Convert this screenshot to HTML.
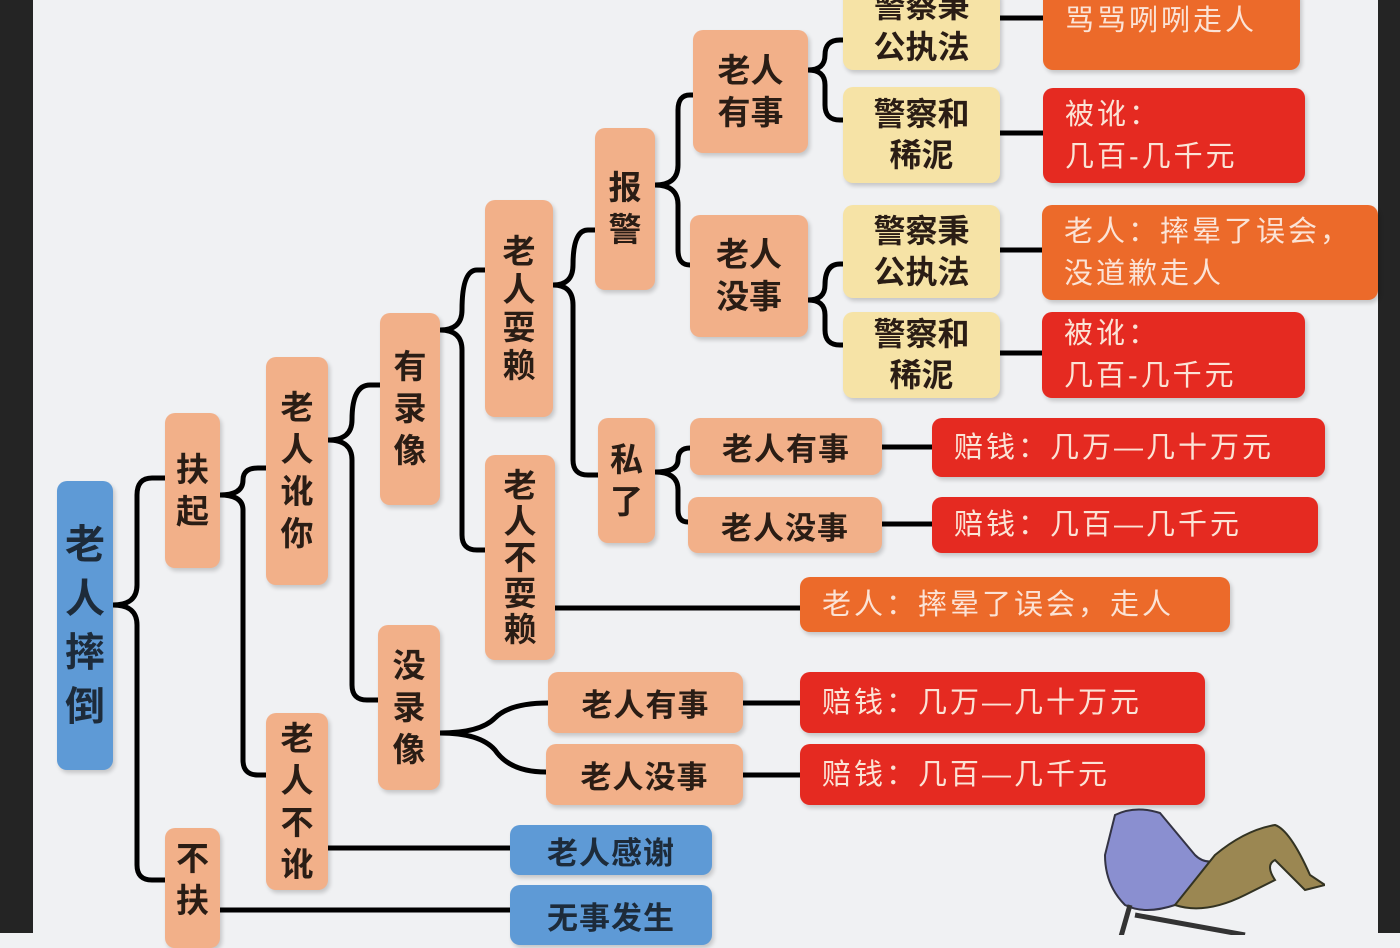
<!DOCTYPE html>
<html><head><meta charset="utf-8"><style>
html,body{margin:0;padding:0}
body{width:1400px;height:933px;position:relative;overflow:hidden;background:#f0f1f3;font-family:"Liberation Sans","Noto Sans CJK SC",sans-serif}
.n{position:absolute;display:flex;align-items:center;justify-content:center;text-align:center;border-radius:10px;box-shadow:2px 3px 4px rgba(0,0,0,.18);color:#2a1d15;font-weight:bold;box-sizing:border-box}
.s{background:#f2b089}
.y{background:#f6e3a6;font-size:32px;line-height:41px}
.o{background:#ec6a2a;color:#fbe3d6;font-weight:normal;justify-content:flex-start;padding-left:22px;text-align:left}
.r{background:#e52a21;color:#fbe3d6;font-weight:normal;justify-content:flex-start;padding-left:22px;text-align:left}
.b{background:#5e9ad6;color:#1d2b3a}
.v{font-size:33px;line-height:42px}
.h{font-size:31px;letter-spacing:1px}
.t{font-size:29px;line-height:42px;letter-spacing:3px}
</style></head><body>
<div style="position:absolute;left:0;top:0;width:33px;height:933px;background:#242424"></div>
<div style="position:absolute;left:1378px;top:0;width:22px;height:933px;background:#242424"></div>

<svg width="1400" height="933" style="position:absolute;left:0;top:0" fill="none" stroke="#000" stroke-width="5">
<path d="M113 605 Q137 605 137 585 L137 495 Q137 478 152 478 L165 478"/>
<path d="M113 605 Q137 605 137 625 L137 865 Q137 880 152 880 L165 880"/>
<path d="M220 495 Q243 495 243 480 Q243 468 258 468 L266 468"/>
<path d="M220 495 Q243 495 243 510 L243 760 Q243 775 258 775 L266 775"/>
<path d="M328 440 Q352 440 352 420 Q352 385 370 385 L380 385"/>
<path d="M328 440 Q352 440 352 460 L352 685 Q352 700 367 700 L378 700"/>
<path d="M440 330 Q462 330 462 310 Q462 270 477 270 L485 270"/>
<path d="M440 330 Q462 330 462 350 L462 535 Q462 550 477 550 L485 550"/>
<path d="M553 285 Q573 285 573 265 Q573 230 588 230 L595 230"/>
<path d="M553 285 Q573 285 573 305 L573 460 Q573 475 588 475 L598 475"/>
<path d="M655 185 Q678 185 678 165 L678 110 Q678 95 690 95 L693 95"/>
<path d="M655 185 Q678 185 678 205 L678 250 Q678 265 690 265 L690 265"/>
<path d="M808 70 Q825 70 825 55 Q825 40 840 40 L843 40"/>
<path d="M808 70 Q825 70 825 85 L825 105 Q825 120 840 120 L843 120"/>
<path d="M808 300 Q825 300 825 285 Q825 264 840 264 L843 264"/>
<path d="M808 300 Q825 300 825 315 L825 330 Q825 345 840 345 L843 345"/>
<path d="M655 472 Q678 472 678 460 Q678 448 690 448"/>
<path d="M655 472 Q678 472 678 490 L678 510 Q678 522 688 522"/>
<path d="M440 733 Q480 733 495 718 Q510 703 548 703"/>
<path d="M440 733 Q480 733 495 750 Q510 772 546 772"/>
<path d="M555 608 L800 608"/>
<path d="M328 848 L510 848"/>
<path d="M220 910 L510 910"/>
<path d="M1000 18 L1043 18 M1000 133 L1043 133 M1000 250 L1042 250 M1000 353 L1042 353"/>
<path d="M882 447 L932 447 M882 524 L932 524 M743 703 L800 703 M743 775 L800 775"/>
</svg>

<div class="n b" style="left:57px;top:481px;width:56px;height:289px;font-size:40px;line-height:54px">老<br>人<br>摔<br>倒</div>
<div class="n s v" style="left:165px;top:413px;width:55px;height:155px">扶<br>起</div>
<div class="n s v" style="left:165px;top:828px;width:55px;height:120px;align-items:flex-start;padding-top:10px">不<br>扶</div>
<div class="n s v" style="left:266px;top:357px;width:62px;height:228px">老<br>人<br>讹<br>你</div>
<div class="n s v" style="left:266px;top:713px;width:62px;height:177px">老<br>人<br>不<br>讹</div>
<div class="n s v" style="left:380px;top:313px;width:60px;height:192px">有<br>录<br>像</div>
<div class="n s v" style="left:378px;top:625px;width:62px;height:165px">没<br>录<br>像</div>
<div class="n s v" style="left:485px;top:200px;width:68px;height:217px;line-height:38px">老<br>人<br>耍<br>赖</div>
<div class="n s v" style="left:485px;top:455px;width:70px;height:205px;line-height:36px">老<br>人<br>不<br>耍<br>赖</div>
<div class="n s v" style="left:595px;top:128px;width:60px;height:162px">报<br>警</div>
<div class="n s v" style="left:598px;top:418px;width:57px;height:125px">私<br>了</div>
<div class="n s v" style="left:693px;top:30px;width:115px;height:123px">老人<br>有事</div>
<div class="n s v" style="left:690px;top:215px;width:118px;height:122px">老人<br>没事</div>

<div class="n y" style="left:843px;top:-12px;width:157px;height:82px;align-items:flex-end;padding-bottom:2px">警察秉<br>公执法</div>
<div class="n y" style="left:843px;top:87px;width:157px;height:96px">警察和<br>稀泥</div>
<div class="n y" style="left:843px;top:205px;width:157px;height:93px">警察秉<br>公执法</div>
<div class="n y" style="left:843px;top:312px;width:157px;height:86px">警察和<br>稀泥</div>

<div class="n o t" style="left:1043px;top:-12px;width:257px;height:82px;align-items:flex-start;padding-top:12px">骂骂咧咧走人</div>
<div class="n r t" style="left:1043px;top:88px;width:262px;height:95px">被讹：<br>几百-几千元</div>
<div class="n o t" style="left:1042px;top:205px;width:336px;height:95px">老人：摔晕了误会，<br>没道歉走人</div>
<div class="n r t" style="left:1042px;top:312px;width:263px;height:86px">被讹：<br>几百-几千元</div>

<div class="n s h" style="left:690px;top:418px;width:192px;height:57px">老人有事</div>
<div class="n s h" style="left:688px;top:497px;width:194px;height:56px">老人没事</div>
<div class="n r t" style="left:932px;top:418px;width:393px;height:59px">赔钱：几万—几十万元</div>
<div class="n r t" style="left:932px;top:497px;width:386px;height:56px">赔钱：几百—几千元</div>
<div class="n o t" style="left:800px;top:577px;width:430px;height:55px">老人：摔晕了误会，走人</div>

<div class="n s h" style="left:548px;top:672px;width:195px;height:61px">老人有事</div>
<div class="n s h" style="left:546px;top:744px;width:197px;height:61px">老人没事</div>
<div class="n r t" style="left:800px;top:672px;width:405px;height:61px">赔钱：几万—几十万元</div>
<div class="n r t" style="left:800px;top:744px;width:405px;height:61px">赔钱：几百—几千元</div>

<div class="n b h" style="left:510px;top:825px;width:202px;height:50px">老人感谢</div>
<div class="n b h" style="left:510px;top:885px;width:202px;height:60px;align-items:flex-start;padding-top:8px">无事发生</div>

<svg width="250" height="130" style="position:absolute;left:1075px;top:805px">
<path d="M40 10 Q60 0 85 8 L120 50 Q130 60 145 55 L100 100 Q70 110 50 100 Q30 80 30 50 Z" fill="#8a8fd0" stroke="#334" stroke-width="2"/>
<path d="M140 50 Q170 25 200 20 Q215 25 235 70 L250 80 L230 85 Q215 70 200 55 Q190 60 200 75 L170 90 Q130 110 100 100 Z" fill="#9b8752" stroke="#332" stroke-width="2"/>
<path d="M55 100 L45 135 M60 110 L170 130" stroke="#333" stroke-width="5"/>
</svg>
</body></html>
